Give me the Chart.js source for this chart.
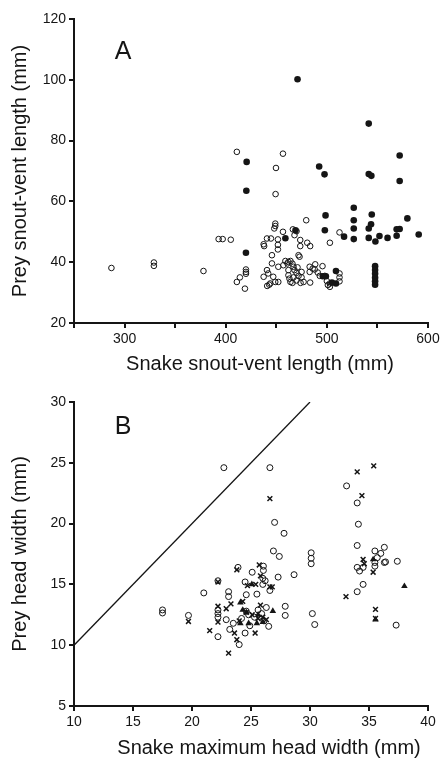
<!DOCTYPE html>
<html>
<head>
<meta charset="utf-8">
<script src="https://cdn.jsdelivr.net/npm/chart.js@4.4.0/dist/chart.umd.min.js"></script>
<style>
    body { margin: 0; background: #fff; }
    canvas { display: block; }
</style>
</head>
<body>
<canvas id="chartA" width="444" height="379"></canvas>
<canvas id="chartB" width="444" height="379"></canvas>
<script>
// ========================================
// DATA
// ========================================

// Panel A: snake SVL (mm) vs prey SVL (mm)
const svlOpen = [
    [287, 38.1], [329, 39.9], [329, 38.8], [378, 37.1], [393, 47.6], [397, 47.6], [405, 47.4],
    [411, 76.3], [449.7, 71], [456.6, 75.7], [449.3, 62.4],
    [420, 37.6], [420, 36.8], [420, 36.2], [419, 31.3], [411, 33.5], [414, 35],
    [479.6, 53.8], [503, 46.4], [512.5, 49.8], [512.5, 36.3], [512.5, 35], [512.5, 33.7], [503, 33], [503, 31.9], [501, 32.5],
    [495.7, 38.7], [488.5, 39.3], [486, 37.9], [483, 38.5], [483, 36.8], [483.5, 33.3], [480.6, 46.4], [483.5, 45.3],
    [473.7, 47.3], [473.7, 45.3], [472, 42.3], [473, 41.8], [466.4, 50.8], [468, 48.9], [470, 50.2], [456.6, 50],
    [451.6, 47.5], [451.6, 45.7], [451.6, 44.2], [449, 52.7], [449, 51.9], [448, 51.1], [440.8, 47.8], [444.7, 47.8],
    [437.5, 45.9], [438, 45.3], [445.7, 42.3], [445.7, 39.6], [452, 38.5], [457, 39], [459, 40.4], [461, 39.6], [464, 40.4], [466, 39.5],
    [440.8, 37.4], [437.5, 35.2], [442, 36.3], [447, 35.2], [449, 33.5], [441, 32.2], [443, 32.6], [444, 33], [452, 33.5],
    [462, 37.4], [462, 35.7], [463, 34.6], [464, 33.5], [466, 33.2], [467, 35], [470, 34], [472, 35.5], [475, 35], [475, 36.8], [474, 33.2],
    [467, 38.5], [468, 37.4], [462, 40.1], [477, 33.5], [470, 36.5], [471, 38.3],
    [491, 36.6], [488, 37.6], [493, 35.5], [498, 35.5], [500, 33.8]
];
const svlFilled = [
    [471, 100.2], [541.4, 85.6], [420.7, 73], [492.4, 71.5], [497.7, 68.9], [541.4, 69], [544, 68.4], [572, 75.1], [572, 66.7],
    [420.4, 63.5], [420, 43.1],
    [526.6, 57.9], [526.6, 53.8], [526.6, 51.1], [526.6, 47.6], [498.7, 55.4], [498, 50.5],
    [544.4, 55.7], [543.7, 52.5], [541.4, 51.1], [541.4, 48], [548, 46.8], [552, 48.6], [560, 48], [569, 50.8], [569, 48.7],
    [572, 50.9], [579.6, 54.4], [590.8, 49.1], [517, 48.4],
    [459, 47.9], [469, 50.5],
    [547.7, 38.7], [547.7, 37.4], [547.7, 36.2], [547.7, 34.9], [547.7, 33.7], [547.7, 32.6],
    [509, 37.1], [496, 35.4], [499, 35.4], [509, 33], [505, 33.3]
];

// Panel B: snake max head width (mm) vs prey head width (mm)
const headOpen = [
    [17.5, 12.9], [17.5, 12.65], [19.7, 12.45], [21, 14.3], [22.2, 15.3], [22.2, 12.9], [22.2, 12.6], [22.2, 12.3], [22.2, 10.7], [22.7, 24.6],
    [23.1, 14.4], [23.1, 14], [22.9, 12.1], [23.2, 11.3], [23.5, 11.8], [23.9, 16.4], [24, 10.05], [24.5, 11], [24.6, 14.15], [24.5, 15.2],
    [24.6, 12.8], [24.2, 12.2], [24.8, 12.5], [24.9, 11.6],
    [25.1, 16], [25.5, 14.2], [25.3, 12.3], [25.6, 12.9], [25.9, 12.6], [26.05, 16.5], [26.05, 16.15], [26, 15.5], [26, 15], [26.3, 13.1],
    [26.1, 12.0], [26.5, 11.55], [26.6, 14.5], [26.2, 15.3],
    [26.6, 24.6], [27, 20.1], [27.8, 19.2], [26.9, 17.75], [27.4, 17.3], [27.3, 15.6], [28.65, 15.8], [27.9, 13.2], [27.9, 12.45],
    [30.1, 17.6], [30.1, 17.15], [30.1, 16.7], [30.2, 12.6], [30.4, 11.7],
    [33.1, 23.1], [34, 21.7], [34.1, 19.95], [34, 18.2], [34, 16.4], [34.5, 16.4], [34, 14.4], [34.5, 15], [34.2, 16.1],
    [35.5, 17.75], [36, 17.55], [36.3, 18.05], [36.3, 16.8], [37.4, 16.9], [35.5, 16.5], [35.5, 16.8], [36.4, 16.85], [37.3, 11.65], [35.7, 17.2]
];
const headCross = [
    [19.7, 11.95], [21.5, 11.2], [22.2, 15.2], [22.2, 13.2], [22.2, 11.9], [23.1, 9.35], [22.9, 13.0], [23.3, 13.4], [23.8, 16.2], [23.8, 10.45],
    [23.6, 11.0], [24.0, 12.0], [24.3, 13.6], [24.6, 12.7], [24.7, 14.9],
    [25.7, 16.6], [25.4, 15.0], [25.8, 15.7], [25.1, 12.5], [25.35, 11.0], [25.8, 13.3], [25.6, 12.2], [26.0, 12.3], [26.8, 14.8], [26.6, 14.8], [26.3, 12.1],
    [26.6, 22.05], [33.05, 14.0], [34, 24.25], [35.4, 24.75], [34.4, 22.3], [34.5, 17.05], [35.35, 16.0], [35.55, 12.95], [35.55, 12.2], [34.6, 16.7]
];
const headTriangle = [
    [24.1, 13.5], [24.1, 11.8], [24.8, 11.8], [25.5, 11.8], [25.07, 15.0], [26.85, 12.8], [24.6, 12.7], [25.6, 12.5],
    [35.35, 17.05], [35.55, 12.1], [38.0, 14.85], [24.3, 12.9], [26.0, 11.9]
];
// 1:1 line (prey head width = snake head width)
const equalityLine = [[10, 10], [30, 30]];

// Axis ranges / ticks
const xTicksA = { min: 250, max: 600, step: 50, labelEvery: 100 };
const yTicksA = { min: 20, max: 120, step: 20 };
const xTicksB = { min: 10, max: 40, step: 5 };
const yTicksB = { min: 5, max: 30, step: 5 };

// ========================================
// HELPERS
// ========================================

const FONT = '"Liberation Sans", Arial, Helvetica, sans-serif';
const INK = '#151515';

function toPoints(arr) {
    return arr.map(p => ({ x: p[0], y: p[1] }));
}

// Panel letter (A / B) and the x axis title, which sits a bit right of centre in the original
const panelText = {
    id: 'panelText',
    afterDraw(chart, args, opts) {
        const ctx = chart.ctx;
        const area = chart.chartArea;
        ctx.save();
        ctx.fillStyle = INK;
        ctx.textAlign = 'center';
        ctx.textBaseline = 'middle';
        ctx.font = '25px ' + FONT;
        ctx.fillText(opts.letter, area.left + opts.dx, area.top + opts.dy);
        ctx.font = '20px ' + FONT;
        ctx.fillText(opts.xTitle, (area.left + area.right) / 2 + opts.xTitleShift, opts.xTitleY);
        ctx.restore();
    }
};

function makeAxis(range, title, isX, fixedSize, labelEvery) {
    return {
        type: 'linear',
        min: range.min,
        max: range.max,
        grid: {
            drawOnChartArea: false,
            drawTicks: true,
            tickLength: 5,
            lineWidth: 2,
            color: INK
        },
        border: { display: true, color: INK, width: 2 },
        ticks: {
            stepSize: range.step,
            color: INK,
            padding: 3,
            maxRotation: 0,
            autoSkip: false,
            font: { family: FONT, size: 14 },
            callback: function (value) {
                if (labelEvery && value % labelEvery !== 0) return '';
                return value;
            }
        },
        title: {
            display: !isX,
            text: title,
            color: INK,
            font: { family: FONT, size: 20, lineHeight: 1 },
            padding: { top: 10, bottom: 0 }
        },
        afterFit: function (scale) {
            if (isX) {
                scale.height = fixedSize;
                scale.paddingLeft = 0;
                scale.paddingRight = 0;
            } else {
                scale.width = fixedSize;
                scale.paddingTop = 0;
                scale.paddingBottom = 0;
            }
        }
    };
}

function baseOptions(padTop, xAxis, yAxis, text) {
    return {
        responsive: false,
        animation: false,
        layout: { padding: { top: padTop, right: 16, left: 0, bottom: 0 } },
        scales: { x: xAxis, y: yAxis },
        plugins: {
            legend: { display: false },
            tooltip: { enabled: false },
            panelText: text
        }
    };
}

// ========================================
// PANEL A
// ========================================

new Chart(document.getElementById('chartA'), {
    type: 'scatter',
    data: {
        datasets: [
            {
                label: 'Open',
                data: toPoints(svlOpen),
                pointStyle: 'circle',
                pointRadius: 2.8,
                pointBackgroundColor: 'rgba(0,0,0,0)',
                pointBorderColor: INK,
                pointBorderWidth: 1
            },
            {
                label: 'Filled',
                data: toPoints(svlFilled),
                pointStyle: 'circle',
                pointRadius: 3.3,
                pointBackgroundColor: INK,
                pointBorderColor: INK,
                pointBorderWidth: 0
            }
        ]
    },
    options: baseOptions(
        19,
        makeAxis(xTicksA, '', true, 56, xTicksA.labelEvery),
        makeAxis(yTicksA, 'Prey snout-vent length (mm)', false, 74),
        { letter: 'A', dx: 49, dy: 33, xTitle: 'Snake snout-vent length (mm)', xTitleShift: 9, xTitleY: 364 }
    ),
    plugins: [panelText]
});

// ========================================
// PANEL B
// ========================================

new Chart(document.getElementById('chartB'), {
    type: 'scatter',
    data: {
        datasets: [
            {
                type: 'line',
                label: '1:1',
                data: toPoints(equalityLine),
                borderColor: INK,
                borderWidth: 1.3,
                pointRadius: 0,
                fill: false
            },
            {
                label: 'Open',
                data: toPoints(headOpen),
                pointStyle: 'circle',
                pointRadius: 3,
                pointBackgroundColor: 'rgba(0,0,0,0)',
                pointBorderColor: INK,
                pointBorderWidth: 1
            },
            {
                label: 'Cross',
                data: toPoints(headCross),
                pointStyle: 'crossRot',
                pointRadius: 3.4,
                pointBorderColor: INK,
                pointBorderWidth: 1.5
            },
            {
                label: 'Triangle',
                data: toPoints(headTriangle),
                pointStyle: 'triangle',
                pointRadius: 3.8,
                pointBackgroundColor: INK,
                pointBorderColor: INK,
                pointBorderWidth: 0
            }
        ]
    },
    options: baseOptions(
        23,
        makeAxis(xTicksB, '', true, 52),
        makeAxis(yTicksB, 'Prey head width (mm)', false, 74),
        { letter: 'B', dx: 49, dy: 25, xTitle: 'Snake maximum head width (mm)', xTitleShift: 18, xTitleY: 369 }
    ),
    plugins: [panelText]
});
</script>
</body>
</html>
